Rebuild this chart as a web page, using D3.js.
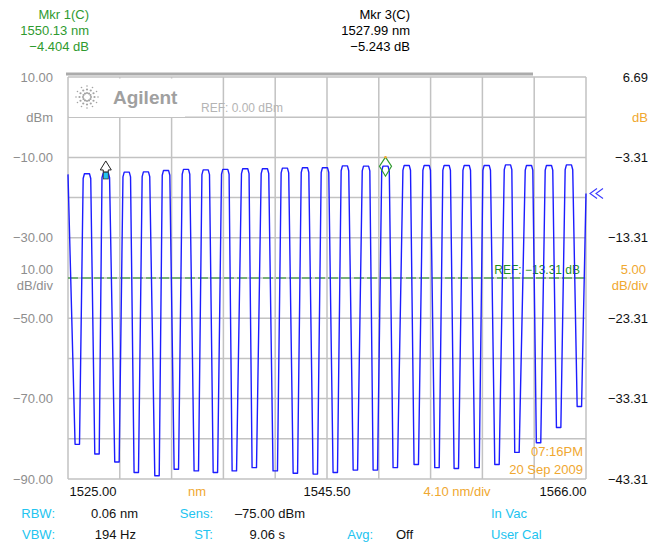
<!DOCTYPE html>
<html>
<head>
<meta charset="utf-8">
<script src="https://cdn.jsdelivr.net/npm/d3@7"></script>
<style>
  body { margin: 0; background: #fff; }
  svg { display: block; font-family: "Liberation Sans", Arial, sans-serif; }
</style>
</head>
<body>
<svg id="osa" width="654" height="546" viewBox="0 0 654 546"></svg>
<script>
const startNm = 1525.0, startDb = -5.42;   // trace enters on a falling shoulder
const endNm = 1566.0, endDb = -7.8;        // trace leaves on a rising edge (<< marker)

const peakNm = [1526.50, 1527.99, 1529.65, 1531.17, 1532.76, 1534.34, 1535.90, 1537.45, 1539.03,
                1540.59, 1542.17, 1543.76, 1545.34, 1546.92, 1548.59, 1550.13, 1551.81, 1553.39,
                1554.97, 1556.56, 1558.14, 1559.83, 1561.49, 1563.07, 1564.65];
const peakDb = [-5.34, -5.24, -5.14, -5.11, -4.93, -4.80, -4.86, -4.80, -4.72,
                -4.72, -4.64, -4.59, -4.59, -4.37, -4.39, -4.40, -4.31, -4.31,
                -4.31, -4.31, -4.31, -4.24, -4.31, -4.31, -4.24];
const dipNm = [1525.71, 1527.27, 1528.85, 1530.38, 1532.02, 1533.55, 1535.13, 1536.64, 1538.14,
               1539.72, 1541.38, 1542.97, 1544.55, 1546.13, 1547.72, 1549.30, 1550.88, 1552.54,
               1554.18, 1555.71, 1557.35, 1558.93, 1560.51, 1562.22, 1563.81, 1565.45];
const dipDb = [-39.0, -40.2, -41.2, -42.5, -42.9, -42.1, -42.3, -42.5, -42.3,
               -41.9, -42.3, -42.6, -42.7, -42.5, -42.2, -42.2, -41.9, -41.5,
               -41.9, -42.0, -41.9, -41.5, -40.0, -38.8, -36.9, -34.3];

const leftTicks = [10, -10, -30, -50, -70, -90];                    // dBm
const rightTicks = [6.69, -3.31, -13.31, -23.31, -33.31, -43.31];    // dB
const xLabels = [1525.00, 1545.50, 1566.00];

const markers = [
    {name: "Mkr 1(C)", nm: 1550.13, db: -4.404, colour: "#2f9a2f", kind: "diamond"},
    {name: "Mkr 3(C)", nm: 1527.99, db: -5.243, colour: "#000", kind: "arrow"}
];
const refDb = -13.31;       // label of the reference line
const refLineDbm = -40;     // where the dashed line sits (screen centre)

const infoRow1 = [["RBW:", "0.06 nm"], ["Sens:", "\u201375.00 dBm"]];
const infoRow2 = [["VBW:", "194 Hz"], ["ST:", "9.06 s"], ["Avg:", "Off"]];

const svg = d3.select("#osa");
const orange = "#f0a830", cyan = "#22c4f0", gridCol = "#c2c2c2", axisGrey = "#8e8e8e";

const x = d3.scaleLinear().domain([1525, 1566]).range([68, 586]);
const yL = d3.scaleLinear().domain([-90, 10]).range([479, 77]);
const yR = d3.scaleLinear().domain([-43.31, 6.69]).range([479, 77]);

const fmt = v => d3.format(".2f")(v).replace("-", "\u2013");
const fmt3 = v => d3.format(".3f")(v).replace("-", "\u2013");

// grid + frame
const g = svg.append("g");
g.selectAll("line.v")
    .data(d3.range(0, 11).map(i => 1525 + i * 4.1))
    .join("line")
    .attr("x1", d => x(d)).attr("x2", d => x(d))
    .attr("y1", yL(10)).attr("y2", yL(-90))
    .style("stroke", gridCol).style("stroke-width", 1.5);
g.selectAll("line.h")
    .data(d3.range(10, -91, -10))
    .join("line")
    .attr("x1", x(1525)).attr("x2", x(1566))
    .attr("y1", d => yL(d)).attr("y2", d => yL(d))
    .style("stroke", gridCol).style("stroke-width", 1.5);
// darker bar on top of the graticule
svg.append("line")
    .attr("x1", 66).attr("x2", 533).attr("y1", 74).attr("y2", 74)
    .style("stroke", "#ababab").style("stroke-width", 3);

// Agilent logo box
svg.append("rect").attr("x", 69).attr("y", 78.5).attr("width", 116).attr("height", 38.5).style("fill", "#fff");
const star = svg.append("g").attr("transform", "translate(87,97)");
d3.range(0, 360, 30).forEach(a => {
    const r = a * Math.PI / 180;
    [4, 7.5, 11].forEach((d, k) => {
        star.append("circle")
            .attr("cx", Math.cos(r) * d).attr("cy", Math.sin(r) * d)
            .attr("r", k === 2 ? 0.8 : 1.1)
            .style("fill", "#a4a4a4");
    });
});
svg.append("text").attr("x", 113).attr("y", 104)
    .style("font-size", "19px").style("font-weight", "bold").style("fill", "#a0a0a0")
    .text("Agilent");
svg.append("text").attr("x", 201).attr("y", 112)
    .style("font-size", "12px").style("fill", "#b4b4b4")
    .text("REF: 0.00 dBm");

// reference level line
svg.append("line")
    .attr("x1", x(1525)).attr("x2", x(1566))
    .attr("y1", yL(refLineDbm)).attr("y2", yL(refLineDbm))
    .style("stroke", "#1f8f1f").style("stroke-width", 1.2).style("stroke-dasharray", "10,3");
svg.append("text").attr("x", 580).attr("y", yL(refLineDbm) - 4).attr("text-anchor", "end")
    .style("font-size", "12px").style("fill", "#1f8f1f")
    .text("REF: " + fmt(refDb) + " dB");

// trace: each passband drawn as a flat-topped lobe between its two dips
let pts = [[startNm, startDb]];
dipNm.forEach((dn, i) => {
    pts.push([dn - 0.15, dipDb[i]], [dn + 0.2, dipDb[i]]);
    if (i < peakNm.length) {
        const p = peakNm[i], t = peakDb[i];
        pts.push([p - 0.3, t - 0.6], [p - 0.2, t], [p + 0.2, t], [p + 0.3, t - 0.6]);
    }
});
pts.push([endNm, endDb]);

svg.append("path")
    .datum(pts)
    .attr("d", d3.line().x(d => x(d[0])).y(d => yR(d[1])))
    .style("fill", "none").style("stroke", "#1c1cff").style("stroke-width", 1.4)
    .style("stroke-linejoin", "round");

// markers on the trace
markers.forEach(m => {
    const mx = x(m.nm), my = yR(m.db);
    if (m.kind === "arrow") {
        svg.append("rect").attr("x", mx - 2.5).attr("y", my - 1).attr("width", 5).attr("height", 7)
            .style("fill", cyan).style("stroke", "#333").style("stroke-width", 0.8);
        svg.append("path")
            .attr("d", `M${mx},${my - 12} L${mx + 5.5},${my - 3} L${mx + 2.5},${my - 3} L${mx + 2.5},${my - 1}` +
                       ` L${mx - 2.5},${my - 1} L${mx - 2.5},${my - 3} L${mx - 5.5},${my - 3} Z`)
            .style("fill", "#fff").style("stroke", "#222").style("stroke-width", 1);
    } else {
        svg.append("path")
            .attr("d", `M${mx},${my - 9} L${mx + 6},${my} L${mx},${my + 10} L${mx - 6},${my} Z`)
            .style("fill", "none").style("stroke", m.colour).style("stroke-width", 1.2);
        svg.append("circle").attr("cx", mx).attr("cy", my - 9).attr("r", 1.3).style("fill", orange);
    }
});
// end-of-trace indicator
const ey = yR(endDb);
svg.append("path")
    .attr("d", `M597,${ey - 5} L590,${ey} L597,${ey + 5} M603,${ey - 5} L596,${ey} L603,${ey + 5}`)
    .style("fill", "none").style("stroke", "#3a3aff").style("stroke-width", 1.1);

// marker readouts
const hdr = [{xr: 89, m: markers[0]}, {xr: 410, m: markers[1]}];
hdr.forEach(h => {
    const lines = [h.m.name, d3.format(".2f")(h.m.nm) + " nm", fmt3(h.m.db) + " dB"];
    svg.selectAll(null).data(lines).join("text")
        .attr("x", h.xr).attr("y", (d, i) => 19 + i * 16).attr("text-anchor", "end")
        .style("font-size", "13px").style("fill", h.m.colour)
        .text(d => d);
});

// left axis (absolute, dBm)
svg.selectAll("text.l").data(leftTicks).join("text")
    .attr("x", 53).attr("y", d => yL(d) + 4.5).attr("text-anchor", "end")
    .style("font-size", "13px").style("fill", axisGrey)
    .text(d => fmt(d));
svg.append("text").attr("x", 53).attr("y", yL(0) + 4.5).attr("text-anchor", "end")
    .style("font-size", "13px").style("fill", axisGrey).text("dBm");
svg.append("text").attr("x", 53).attr("y", yL(-40) - 4).attr("text-anchor", "end")
    .style("font-size", "13px").style("fill", axisGrey).text("10.00");
svg.append("text").attr("x", 53).attr("y", yL(-40) + 12).attr("text-anchor", "end")
    .style("font-size", "13px").style("fill", axisGrey).text("dB/div");

// right axis (relative, dB)
svg.selectAll("text.r").data(rightTicks).join("text")
    .attr("x", 648).attr("y", d => yR(d) + 4.5).attr("text-anchor", "end")
    .style("font-size", "13px").style("fill", "#111")
    .text(d => fmt(d));
svg.append("text").attr("x", 648).attr("y", yR(1.69) + 4.5).attr("text-anchor", "end")
    .style("font-size", "13px").style("fill", orange).text("dB");
svg.append("text").attr("x", 646).attr("y", yR(-18.31) - 4).attr("text-anchor", "end")
    .style("font-size", "13px").style("fill", orange).text("5.00");
svg.append("text").attr("x", 648).attr("y", yR(-18.31) + 12).attr("text-anchor", "end")
    .style("font-size", "13px").style("fill", orange).text("dB/div");

// x axis labels
svg.selectAll("text.x").data(xLabels).join("text")
    .attr("x", d => x(d) + (d === 1525 ? 25 : d === 1566 ? -23 : 0)).attr("y", 496)
    .attr("text-anchor", "middle")
    .style("font-size", "13px").style("fill", "#111")
    .text(d => d3.format(".2f")(d));
svg.append("text").attr("x", 197).attr("y", 496).attr("text-anchor", "middle")
    .style("font-size", "13px").style("fill", orange).text("nm");
svg.append("text").attr("x", 457).attr("y", 496).attr("text-anchor", "middle")
    .style("font-size", "13px").style("fill", orange).text("4.10 nm/div");

// time stamp
svg.append("text").attr("x", 583).attr("y", 456).attr("text-anchor", "end")
    .style("font-size", "13px").style("fill", orange).text("07:16PM");
svg.append("text").attr("x", 583).attr("y", 474).attr("text-anchor", "end")
    .style("font-size", "13px").style("fill", orange).text("20 Sep 2009");

// settings block
const labelRight = [[55, 213], [55, 213, 373]];
const valueRight = [[138, 305], [136, 285, 413]];
[infoRow1, infoRow2].forEach((row, r) => {
    const yy = 518 + r * 21;
    row.forEach((pair, c) => {
        svg.append("text").attr("x", labelRight[r][c]).attr("y", yy).attr("text-anchor", "end")
            .style("font-size", "13px").style("fill", cyan).text(pair[0]);
        svg.append("text").attr("x", valueRight[r][c]).attr("y", yy).attr("text-anchor", "end")
            .style("font-size", "13px").style("fill", "#111").text(pair[1]);
    });
});
svg.append("text").attr("x", 491).attr("y", 518).style("font-size", "13px").style("fill", cyan).text("In Vac");
svg.append("text").attr("x", 491).attr("y", 539).style("font-size", "13px").style("fill", cyan).text("User Cal");
</script>
</body>
</html>
